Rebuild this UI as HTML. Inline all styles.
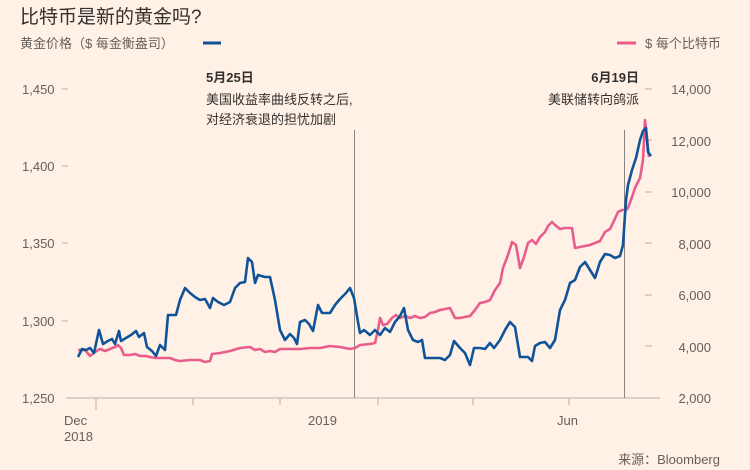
<!DOCTYPE html>
<html><head><meta charset="utf-8"><style>
body{margin:0;background:#fff1e5;}
svg{display:block;font-family:"Liberation Sans","Noto Sans CJK SC",sans-serif;}
</style></head><body>
<svg width="750" height="470" viewBox="0 0 750 470" xmlns="http://www.w3.org/2000/svg">
<rect width="750" height="470" fill="#fff1e5"/>
<text x="20" y="23" font-size="19" fill="#33302e">比特币是新的黄金吗?</text>
<text x="20" y="48" font-size="13" fill="#66605c">黄金价格（$ 每金衡盎司）</text>
<line x1="203" y1="43" x2="221" y2="43" stroke="#0f5499" stroke-width="3"/>
<line x1="617" y1="43" x2="636" y2="43" stroke="#e95d8c" stroke-width="3"/>
<text x="645" y="48" font-size="13" fill="#66605c">$ 每个比特币</text>
<g font-size="13" fill="#66605c">
<text x="22" y="94">1,450</text><text x="22" y="171">1,400</text><text x="22" y="248">1,350</text><text x="22" y="326">1,300</text><text x="22" y="403">1,250</text>
<g text-anchor="end">
<text x="711" y="94">14,000</text><text x="711" y="146">12,000</text><text x="711" y="197">10,000</text><text x="711" y="249">8,000</text><text x="711" y="300">6,000</text><text x="711" y="352">4,000</text><text x="711" y="403">2,000</text>
</g>
<text x="64" y="425">Dec</text><text x="64" y="441">2018</text><text x="308" y="425">2019</text><text x="557" y="425">Jun</text>
<text x="720" y="464" text-anchor="end">来源：Bloomberg</text>
</g>
<g stroke="#b8b0a8" stroke-width="1">
<line x1="62" y1="89" x2="68" y2="89"/><line x1="62" y1="166" x2="68" y2="166"/><line x1="62" y1="243" x2="68" y2="243"/><line x1="62" y1="321" x2="68" y2="321"/>
<line x1="645" y1="89" x2="652" y2="89"/><line x1="645" y1="140" x2="652" y2="140"/><line x1="645" y1="192" x2="652" y2="192"/><line x1="645" y1="243" x2="652" y2="243"/><line x1="645" y1="295" x2="652" y2="295"/><line x1="645" y1="346" x2="652" y2="346"/><line x1="645" y1="398" x2="652" y2="398"/>
<line x1="66" y1="398" x2="660" y2="398"/>
<line x1="96" y1="398" x2="96" y2="410"/><line x1="193" y1="398" x2="193" y2="405"/><line x1="280" y1="398" x2="280" y2="405"/><line x1="378" y1="398" x2="378" y2="405"/><line x1="473" y1="398" x2="473" y2="405"/><line x1="569" y1="398" x2="569" y2="405"/>
</g>
<line x1="354.5" y1="130" x2="354.5" y2="398" stroke="#8a8480" stroke-width="1"/>
<line x1="624.5" y1="130" x2="624.5" y2="398" stroke="#8a8480" stroke-width="1"/>
<g font-size="13" fill="#33302e">
<text x="206" y="82" font-weight="bold">5月25日</text>
<text x="206" y="104">美国收益率曲线反转之后,</text>
<text x="206" y="124">对经济衰退的担忧加剧</text>
<text x="639" y="82" font-weight="bold" text-anchor="end">6月19日</text>
<text x="639" y="104" text-anchor="end">美联储转向鸽派</text>
</g>
<polyline fill="none" stroke="#e95d8c" stroke-width="2.6" stroke-linejoin="round" points="78,350 85,350 90,356 95,352 100,349 105,351 110,349 115,347 118,345 121,348 124,355 130,355 135,354 140,356 146,356 150,357 155,358 160,358 170,358 175,360 180,361 190,360 200,360 205,362 210,361 212,354 220,353 230,351 240,348 250,347 255,350 260,349 265,352 270,351 275,352 280,349 290,349 300,349 310,348 320,348 330,346 340,347 345,348 350,349 355,348 360,345 370,344 375,343 378,330 380,318 383,325 387,324 392,318 396,315 400,318 405,316 410,318 415,316 420,318 425,317 430,313 435,312 440,310 450,308 455,318 460,318 470,316 475,310 480,303 485,302 490,300 495,290 500,283 503,268 508,255 512,242 516,245 520,268 524,257 528,243 532,240 536,244 540,237 545,232 548,226 552,222 555,225 560,229 565,228 572,228 575,248 580,247 585,246 590,245 595,243 600,241 605,232 610,229 613,223 618,212 622,210 626,210 628,208 632,197 635,188 640,178 643,160 645,120 647,138 649,157"/>
<polyline fill="none" stroke="#0f5499" stroke-width="2.6" stroke-linejoin="round" points="78,357 82,349 86,350 90,348 94,353 99,330 103,344 108,341 112,339 115,344 119,331 121,341 126,338 131,335 136,331 139,337 144,333 147,347 152,351 156,356 160,345 165,350 168,315 176,315 180,300 185,288 190,293 195,297 200,300 205,299 210,308 213,298 218,302 224,305 230,302 235,288 240,283 245,282 248,258 252,262 255,283 258,275 265,277 270,277 275,300 280,330 285,340 290,334 294,338 297,344 300,322 305,320 309,324 313,331 318,305 322,313 330,313 335,305 340,299 346,293 350,288 354,298 358,322 360,333 364,330 370,335 375,330 380,335 385,328 390,332 395,322 400,316 404,308 408,330 413,340 418,342 422,340 425,358 430,358 440,358 445,360 450,355 454,341 460,348 465,353 470,365 474,348 480,348 485,349 490,343 494,348 500,340 505,330 510,322 515,327 520,357 528,357 532,361 535,346 540,343 545,342 550,348 555,340 560,310 565,300 570,283 575,280 580,267 585,262 590,270 595,278 600,262 605,254 610,255 615,258 620,256 623,245 626,200 628,185 632,170 636,158 640,140 643,131 646,128 648,152 651,156"/>
</svg>
</body></html>
